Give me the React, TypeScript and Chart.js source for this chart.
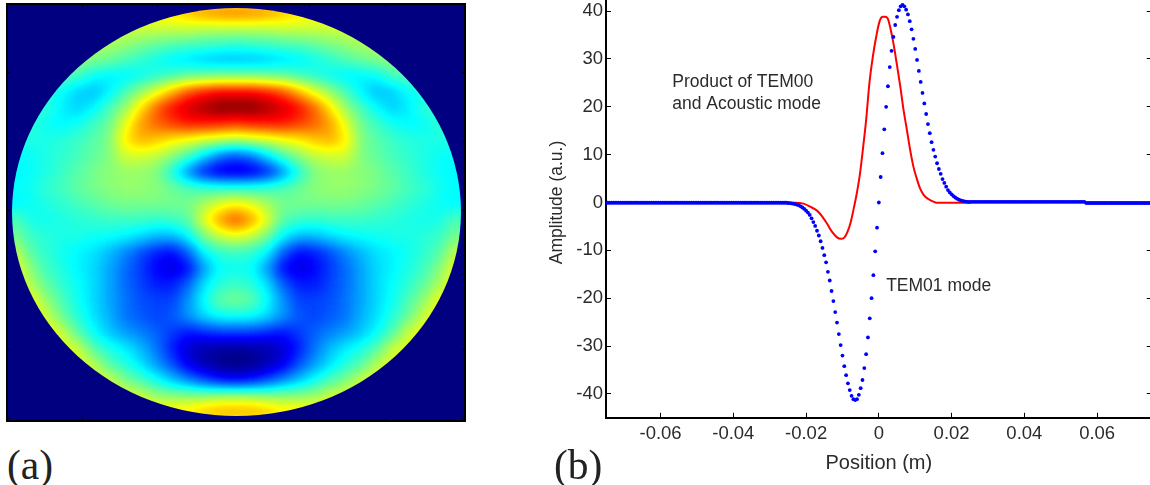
import React, { useEffect, useRef } from "react";
import { Chart, registerables } from "chart.js";

Chart.register(...registerables);

// ---------- panel (a): acoustic mode field, jet-scale level 0..100, rows top to bottom ----------
const fieldRow00 = [62,62,62,62,62,62,62,62,62,64,66,70,74,76,77,76,74,70,66,64,62,62,62,62,62,62,62,62,62];
const fieldRow01 = [58,58,58,58,58,58,58,58,58,58,58,58,57,57,57,57,57,58,58,58,58,58,58,58,58,58,58,58,58];
const fieldRow02 = [56,56,56,56,56,56,54,52,50,48,46,45,44,43,42,43,44,45,46,48,50,52,54,56,56,56,56,56,56];
const fieldRow03 = [52,52,52,52,52,50,48,45,42,39,36,34,32,31,31,31,32,34,36,39,42,45,48,50,52,52,52,52,52];
const fieldRow04 = [46,46,46,46,44,38,36,36,38,41,44,47,48,49,49,49,48,47,44,41,38,36,36,38,44,46,46,46,46];
const fieldRow05 = [40,40,40,38,33,31,36,44,52,60,70,80,85,88,88,88,85,80,70,60,52,44,36,31,33,38,40,40,40];
const fieldRow06 = [42,42,42,36,33,37,44,52,65,78,87,92,96,100,100,100,96,92,87,78,65,52,44,37,33,36,42,42,42];
const fieldRow07 = [42,42,38,37,39,43,48,60,72,78,82,85,85,84,82,84,85,85,82,78,72,60,48,43,39,37,38,42,42];
const fieldRow08 = [40,40,40,41,43,46,50,64,70,68,64,61,58,56,54,56,58,61,64,68,70,64,50,46,43,41,40,40,40];
const fieldRow09 = [38,38,40,42,44,47,50,58,58,56,51,44,34,24,20,24,34,44,51,56,58,58,50,47,44,42,40,38,38];
const fieldRow10 = [37,38,40,43,46,49,51,52,52,50,40,26,14,9,8,9,14,26,40,50,52,52,51,49,46,43,40,38,37];
const fieldRow11 = [37,39,42,44,47,49,51,52,52,51,48,45,43,42,42,42,43,45,48,51,52,52,51,49,47,44,42,39,37];
const fieldRow12 = [37,38,40,42,44,46,48,49,49,49,49,49,54,60,63,60,54,49,49,49,49,49,48,46,44,42,40,38,37];
const fieldRow13 = [46,40,39,40,41,42,43,43,43,42,43,46,60,72,80,72,60,46,43,42,43,43,43,42,41,40,39,40,46];
const fieldRow14 = [50,43,41,40,40,39,38,37,34,31,31,37,49,57,60,57,49,37,31,31,34,37,38,39,40,40,41,43,50];
const fieldRow15 = [58,46,42,39,37,35,31,26,20,15,13,22,37,42,43,42,37,22,13,15,20,26,31,35,37,39,42,46,58];
const fieldRow16 = [62,51,44,40,37,34,29,23,18,12,9,13,28,38,38,38,28,13,9,12,18,23,29,34,37,40,44,51,62];
const fieldRow17 = [62,55,47,42,38,34,29,23,19,15,15,22,35,41,43,41,35,22,15,15,19,23,29,34,38,42,47,55,62];
const fieldRow18 = [62,62,52,45,39,34,29,24,20,19,19,27,38,47,49,47,38,27,19,19,20,24,29,34,39,45,52,62,62];
const fieldRow19 = [62,62,58,48,41,35,30,24,21,19,21,27,34,38,39,38,34,27,21,19,21,24,30,35,41,48,58,62,62];
const fieldRow20 = [62,62,62,58,46,38,32,28,25,22,18,14,16,18,18,18,16,14,18,22,25,28,32,38,46,58,62,62,62];
const fieldRow21 = [60,60,60,60,58,46,40,36,31,24,15,8,4,3,2,3,4,8,15,24,31,36,40,46,58,60,60,60,60];
const fieldRow22 = [60,60,60,60,60,56,46,41,35,28,20,10,5,1,0,1,5,10,20,28,35,41,46,56,60,60,60,60,60];
const fieldRow23 = [60,60,60,60,60,60,58,50,45,39,32,26,20,15,13,15,20,26,32,39,45,50,58,60,60,60,60,60,60];
const fieldRow24 = [60,60,60,60,60,60,60,60,58,53,52,52,52,54,55,54,52,52,52,53,58,60,60,60,60,60,60,60,60];
const fieldRow25 = [65,65,65,65,65,65,65,65,65,65,66,66,70,72,72,72,70,66,66,65,65,65,65,65,65,65,65,65,65];
const fieldRows = [
  fieldRow00, fieldRow01, fieldRow02, fieldRow03, fieldRow04, fieldRow05, fieldRow06, fieldRow07, fieldRow08,
  fieldRow09, fieldRow10, fieldRow11, fieldRow12, fieldRow13, fieldRow14, fieldRow15, fieldRow16, fieldRow17,
  fieldRow18, fieldRow19, fieldRow20, fieldRow21, fieldRow22, fieldRow23, fieldRow24, fieldRow25,
];
const heatXRange = [0.013, 6.04];
const heatYRange = [0.014, 6.04];
const heatXTicks = [1, 2, 3, 4, 5];
const heatYTicks = [1, 2, 3, 4, 5, 6];
const discCentre = [3.033, 3.02];
const discRadius = [2.954, 2.948];

// ---------- panel (b): amplitude against position ----------
const positionStart = -0.075;
const positionStep = 0.0005;

const tem01FlatLeft = [
  -0.05,-0.05,-0.05,-0.05,-0.05,-0.05,-0.05,-0.05,-0.05,-0.05,-0.05,-0.05,-0.05,-0.05,-0.05,-0.05,-0.05,-0.05,-0.05,-0.05,
  -0.05,-0.05,-0.05,-0.05,-0.05,-0.05,-0.05,-0.05,-0.05,-0.05,-0.05,-0.05,-0.05,-0.05,-0.05,-0.05,-0.05,-0.05,-0.05,-0.05,
  -0.05,-0.05,-0.05,-0.05,-0.05,-0.05,-0.05,-0.05,-0.05,-0.05,-0.05,-0.05,-0.05,-0.05,-0.05,-0.05,-0.05,-0.05,-0.05,-0.05,
  -0.05,-0.05,-0.05,-0.05,-0.05,-0.05,-0.05,-0.05,-0.05,-0.05,-0.05,-0.05,-0.05,-0.05,-0.05,-0.05,-0.05,-0.05,-0.05,-0.05,
  -0.05,-0.05,-0.05,-0.05,-0.05,-0.05,-0.05,-0.05,-0.05,-0.05,-0.05,-0.05,-0.05,-0.05,-0.05,-0.05,-0.05,-0.05,-0.05,-0.05,
];
const tem01Dip = [
  -0.1,-0.15,-0.2,-0.25,-0.35,-0.45,-0.6,-0.8,-1.05,-1.35,-1.7,-2.1,-2.6,-3.3,-4.1,-4.9,-5.9,-6.9,-8.1,-9.5,
  -11.0,-12.5,-14.5,-16.3,-18.5,-20.6,-22.9,-25.1,-27.5,-29.8,-32.0,-34.2,-36.1,-37.8,-39.2,-40.4,-41.1,-41.3,-41.1,-40.2,
  -38.8,-37.1,-34.6,-31.7,-28.2,-24.2,-20.0,-15.2,-10.2,-5.26,
];
const tem01Lobe = [
  0,5.33,10.3,15.3,20.0,24.3,28.3,31.7,34.6,37.1,38.8,40.2,41.0,41.3,41.0,40.3,39.3,37.9,36.2,34.2,
  32.1,29.8,27.5,25.2,22.9,20.7,18.5,16.4,14.5,12.6,11.0,9.6,8.2,7.0,6.0,4.9,4.1,3.3,2.6,2.1,
  1.7,1.35,1.05,0.8,0.6,0.45,0.35,0.25,0.2,0.15,0.12,
];
const tem01FlatRight = [
  0.15,0.15,0.15,0.15,0.15,0.15,0.15,0.15,0.15,0.15,0.15,0.15,0.15,0.15,0.15,0.15,0.15,0.15,0.15,0.15,
  0.15,0.15,0.15,0.15,0.15,0.15,0.15,0.15,0.15,0.15,0.15,0.15,0.15,0.15,0.15,0.15,0.15,0.15,0.15,0.15,
  0.15,0.15,0.15,0.15,0.15,0.15,0.15,0.15,0.15,0.15,0.15,0.15,0.15,0.15,0.15,0.15,0.15,0.15,0.15,0.15,
  0.15,0.15,0.15,
  -0.1,-0.1,-0.1,-0.1,-0.1,-0.1,-0.1,-0.1,-0.1,-0.1,-0.1,-0.1,-0.1,-0.1,-0.1,-0.1,-0.1,-0.1,-0.1,-0.1,
  -0.1,-0.1,-0.1,-0.1,-0.1,-0.1,-0.1,-0.1,-0.1,-0.1,-0.1,-0.1,-0.1,-0.1,-0.1,-0.1,
];
const tem01Values = [...tem01FlatLeft, ...tem01Dip, ...tem01Lobe, ...tem01FlatRight];

const productX = [
  -0.075,-0.023,-0.0207,-0.0189,-0.017,-0.0157,-0.0143,-0.0129,-0.0115,-0.0104,-0.0095,-0.0086,-0.0077,-0.0068,
  -0.00624,-0.0053,-0.0044,-0.0035,-0.0026,-0.00165,-0.00074,0.00017,0.0011,0.0017,0.0024,0.0031,0.004,0.0049,
  0.0059,0.0068,0.0077,0.0086,0.0095,0.0104,0.0113,0.0123,0.0136,0.015,0.0159,0.0251,
];
const productY = [
  -0.03,-0.03,-0.24,-0.87,-1.7,-2.8,-4.35,-6.1,-7.3,-7.6,-7.35,-6.1,-4.0,-0.87,
  1.2,5.4,11.0,17.2,24.9,30.5,34.6,37.8,38.8,38.8,38.5,36.7,33.3,29.1,
  24.2,19.3,15.2,11.0,7.5,5.05,3.0,1.6,0.73,0.17,-0.04,-0.04,
];

const xTicks = [-0.06, -0.04, -0.02, 0, 0.02, 0.04, 0.06];
const yTicks = [-40, -30, -20, -10, 0, 10, 20, 30, 40];
const xAxisTitle = "Position (m)";
const yAxisTitle = "Amplitude (a.u.)";
const noteTexts = ["Product of TEM00", "and Acoustic mode", "TEM01 mode"];
const noteX = [-0.0568, -0.0568, 0.002];
const noteY = [25.2, 20.6, -17.4];

const SANS = '"Liberation Sans", Arial, sans-serif';
const TEXT = "#2b2b2b";

const jetStops: [number, number, number, number][] = [
  [0, 0, 0, 128], [12.5, 0, 0, 255], [37.5, 0, 255, 255], [50, 128, 255, 128],
  [62.5, 255, 255, 0], [87.5, 255, 0, 0], [100, 128, 0, 0],
];
function jet(v: number): [number, number, number] {
  for (let i = 1; i < jetStops.length; i++) {
    const a = jetStops[i - 1], b = jetStops[i];
    if (v <= b[0]) {
      const t = (v - a[0]) / (b[0] - a[0]);
      return [a[1] + (b[1] - a[1]) * t, a[2] + (b[2] - a[2]) * t, a[3] + (b[3] - a[3]) * t];
    }
  }
  return [128, 0, 0];
}
// cells carry their level as a grey value, so smoothing happens on levels, not on colours
function levelGrey(v: number) {
  const g = Math.round(v * 2.55);
  return `rgb(${g},${g},${g})`;
}

function fieldCells() {
  const out: { x: number; y: number; v: number }[] = [];
  const nr = fieldRows.length;
  fieldRows.forEach((row, r) => {
    row.forEach((v, c) => {
      out.push({
        x: heatXRange[0] + ((c + 0.5) * (heatXRange[1] - heatXRange[0])) / row.length,
        y: heatYRange[0] + ((r + 0.5) * (heatYRange[1] - heatYRange[0])) / nr,
        v,
      });
    });
  });
  return out;
}

// Smooths the library-drawn cells, colours them with the jet map and trims to the disc on navy.
const discPlugin = {
  id: "disc",
  afterDatasetsDraw(chart: any) {
    const { ctx, chartArea: a, canvas, scales } = chart;
    const w = Math.round(a.right - a.left), h = Math.round(a.bottom - a.top), pad = 40;
    const raw = document.createElement("canvas");
    raw.width = w + pad * 2;
    raw.height = h + pad * 2;
    const r = raw.getContext("2d")!;
    r.drawImage(canvas, a.left, a.top, w, h, 0, 0, raw.width, raw.height);
    r.drawImage(canvas, a.left, a.top, w, h, pad, pad, w, h);
    const off = document.createElement("canvas");
    off.width = raw.width;
    off.height = raw.height;
    const o = off.getContext("2d", { willReadFrequently: true })!;
    o.filter = "blur(7px)";
    o.drawImage(raw, 0, 0);
    o.filter = "none";
    const img = o.getImageData(0, 0, off.width, off.height);
    const d = img.data;
    for (let i = 0; i < d.length; i += 4) {
      const c = jet(d[i] / 2.55);
      d[i] = c[0];
      d[i + 1] = c[1];
      d[i + 2] = c[2];
      d[i + 3] = 255;
    }
    o.putImageData(img, 0, 0);
    ctx.save();
    ctx.fillStyle = "rgb(0,0,128)";
    ctx.fillRect(a.left, a.top, a.right - a.left, a.bottom - a.top);
    const cx = scales.x.getPixelForValue(discCentre[0]);
    const cy = scales.y.getPixelForValue(discCentre[1]);
    const rx = Math.abs(scales.x.getPixelForValue(discCentre[0] + discRadius[0]) - cx);
    const ry = Math.abs(scales.y.getPixelForValue(discCentre[1] + discRadius[1]) - cy);
    ctx.beginPath();
    ctx.ellipse(cx, cy, rx, ry, 0, 0, Math.PI * 2);
    ctx.clip();
    ctx.drawImage(off, a.left - pad, a.top - pad);
    ctx.restore();
  },
};

const notesPlugin = {
  id: "notes",
  afterDatasetsDraw(chart: any) {
    const { ctx, scales } = chart;
    ctx.save();
    ctx.font = `17.5px ${SANS}`;
    ctx.fillStyle = TEXT;
    ctx.textBaseline = "middle";
    noteTexts.forEach((t, i) => {
      ctx.fillText(t, scales.x.getPixelForValue(noteX[i]), scales.y.getPixelForValue(noteY[i]));
    });
    ctx.restore();
  },
};

function sized(prop: "width" | "height", n: number) {
  return (s: any) => {
    s[prop] = n;
    s.paddingTop = 0;
    s.paddingBottom = 0;
    s.paddingLeft = 0;
    s.paddingRight = 0;
  };
}
function fixedTicks(list: number[]) {
  return (s: any) => {
    s.ticks = list.map((value) => ({ value }));
  };
}

function HeatPanel() {
  const ref = useRef<HTMLCanvasElement>(null);
  useEffect(() => {
    const frameAxis = (extra: any) => ({
      type: "linear",
      border: { display: true, color: "#000", width: 2, z: 2 },
      grid: { drawOnChartArea: false, drawTicks: true, tickLength: -3, color: "#000", z: 2 },
      ticks: { display: false },
      ...extra,
    });
    const xa = { min: heatXRange[0], max: heatXRange[1], afterBuildTicks: fixedTicks(heatXTicks) };
    const ya = { min: heatYRange[0], max: heatYRange[1], reverse: true, afterBuildTicks: fixedTicks(heatYTicks) };
    const chart = new Chart(ref.current!, {
      type: "scatter",
      data: {
        datasets: [
          {
            data: fieldCells(),
            pointStyle: "rect",
            pointRadius: 12,
            pointBorderWidth: 0,
            pointBackgroundColor: (c: any) => levelGrey(c.raw ? c.raw.v : 0),
          },
        ],
      },
      options: {
        animation: false,
        responsive: false,
        layout: { padding: 0, autoPadding: false },
        plugins: { legend: { display: false }, tooltip: { enabled: false } },
        scales: {
          x: frameAxis({ ...xa, position: "bottom", afterFit: sized("height", 9) }),
          x2: frameAxis({ ...xa, axis: "x", position: "top", afterFit: sized("height", 4) }),
          y: frameAxis({ ...ya, position: "left", afterFit: sized("width", 7) }),
          y2: frameAxis({ ...ya, axis: "y", position: "right", afterFit: sized("width", 5) }),
        },
      } as any,
      plugins: [discPlugin],
    } as any);
    return () => chart.destroy();
  }, []);
  return <canvas ref={ref} width={470} height={430} style={{ position: "absolute", left: 0, top: 0 }} />;
}

function CurvePanel() {
  const ref = useRef<HTMLCanvasElement>(null);
  useEffect(() => {
    const tem01Points = tem01Values.map((y, i) => ({ x: positionStart + i * positionStep, y }));
    const productPoints = productX.map((x, i) => ({ x, y: productY[i] }));
    const font = { family: SANS, size: 18.5 };
    const base = {
      type: "linear",
      border: { display: true, color: "#000", width: 2 },
      grid: { drawOnChartArea: false, drawTicks: true, tickLength: -5, color: "#000", lineWidth: 1 },
    };
    const xa = { ...base, min: -0.075, max: 0.075, afterBuildTicks: fixedTicks(xTicks) };
    const ya = { ...base, min: -45, max: 45, afterBuildTicks: fixedTicks(yTicks) };
    const chart = new Chart(ref.current!, {
      type: "scatter",
      data: {
        datasets: [
          {
            label: "TEM01 mode",
            data: tem01Points,
            pointRadius: 1.9,
            pointBorderWidth: 0,
            pointBackgroundColor: "#0000ff",
            showLine: false,
          },
          {
            label: "Product of TEM00 and Acoustic mode",
            data: productPoints,
            showLine: true,
            pointRadius: 0,
            borderColor: "#ff0000",
            borderWidth: 2,
            cubicInterpolationMode: "monotone",
          },
        ],
      },
      options: {
        animation: false,
        responsive: false,
        layout: { padding: 0, autoPadding: false },
        plugins: { legend: { display: false }, tooltip: { enabled: false } },
        scales: {
          x: {
            ...xa,
            position: "bottom",
            afterFit: sized("height", 67.2),
            ticks: { color: TEXT, font, padding: 10, maxRotation: 0, callback: (v: number) => String(v) },
            title: { display: true, text: xAxisTitle, color: TEXT, font: { family: SANS, size: 20 }, padding: { top: 0, bottom: 10 } },
          },
          x2: { ...xa, axis: "x", position: "top", afterFit: sized("height", 7.2), ticks: { display: false } },
          y: {
            ...ya,
            position: "left",
            afterFit: sized("width", 76),
            ticks: { color: TEXT, font, padding: 8, callback: (v: number) => String(v) },
            title: { display: true, text: yAxisTitle, color: TEXT, font: { family: SANS, size: 17.5 }, padding: { top: 17, bottom: 0 } },
          },
          y2: { ...ya, axis: "y", position: "right", afterFit: sized("width", 8.3), ticks: { display: false } },
        },
      } as any,
      plugins: [notesPlugin],
    } as any);
    return () => chart.destroy();
  }, []);
  return <canvas ref={ref} width={630} height={505} style={{ position: "absolute", left: 530, top: -20 }} />;
}

const panelLabel = (left: number): React.CSSProperties => ({
  position: "absolute",
  left,
  top: 441,
  fontFamily: '"Liberation Serif", serif',
  fontSize: 41.5,
  lineHeight: "48px",
  color: "#222",
});

export default function App() {
  return (
    <div style={{ position: "fixed", left: 0, top: 0, width: 1150, height: 485, overflow: "hidden", background: "#fff" }}>
      <HeatPanel />
      <CurvePanel />
      <div style={panelLabel(7)}>(a)</div>
      <div style={panelLabel(554)}>(b)</div>
    </div>
  );
}
